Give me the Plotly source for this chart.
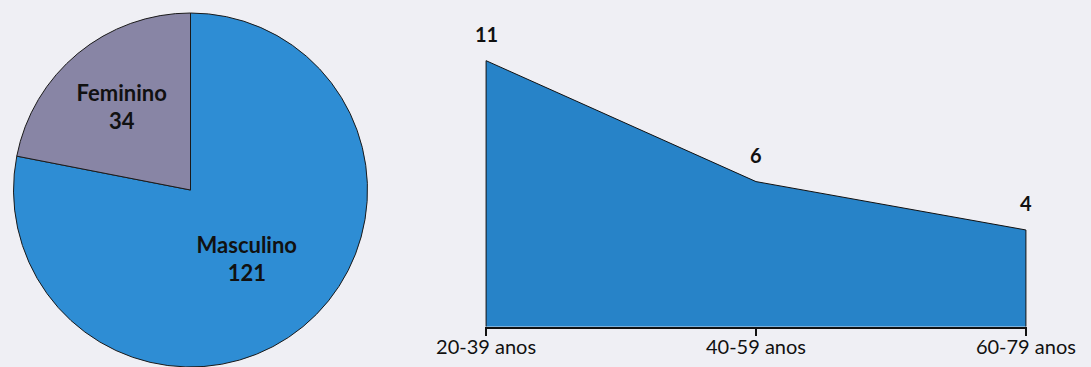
import plotly.graph_objects as go

# ---- data ----
sexo_labels = ["Masculino", "Feminino"]
sexo_values = [121, 34]

faixa_labels = ["20-39 anos", "40-59 anos", "60-79 anos"]
faixa_values = [11, 6, 4]

BG = "#efeff4"
FONT = "Lato"

fig = go.Figure()

# pie
fig.add_trace(go.Pie(
    labels=sexo_labels,
    values=sexo_values,
    sort=False,
    direction="clockwise",
    rotation=0,
    marker=dict(colors=["#2e8dd4", "#8885a5"], line=dict(color="#1a1a1a", width=1)),
    texttemplate="<b>%{label}</b><br><b>%{value}</b>",
    textposition="inside",
    insidetextorientation="horizontal",
    textfont=dict(family=FONT, size=22, color="#111111"),
    domain=dict(x=[13.5 / 1091, 367.5 / 1091], y=[0.0, 1 - 13 / 367]),
    showlegend=False,
    hoverinfo="label+value",
    automargin=False,
))

# area chart (closed polygon down to zero so the side edges are outlined)
xi = list(range(len(faixa_values)))
poly_x = [xi[0]] + xi + [xi[-1]]
poly_y = [0] + faixa_values + [0]
fig.add_trace(go.Scatter(
    x=poly_x, y=poly_y,
    mode="lines",
    fill="toself",
    fillcolor="#2783c8",
    line=dict(color="#111111", width=1),
    showlegend=False,
    xaxis="x", yaxis="y",
    hoverinfo="skip",
))

for i, v in zip(xi, faixa_values):
    fig.add_annotation(
        x=i, y=v, xref="x", yref="y",
        text=f"<b>{v}</b>", showarrow=False,
        yshift=27, font=dict(family=FONT, size=20, color="#111111"),
    )

fig.update_layout(
    width=1091, height=367,
    margin=dict(l=0, r=0, t=0, b=0, autoexpand=False),
    paper_bgcolor=BG, plot_bgcolor=BG,
    xaxis=dict(
        domain=[485 / 1091, 1027 / 1091],
        range=[-0.004, 2.004],
        tickmode="array", tickvals=xi, ticktext=faixa_labels,
        showline=True, linecolor="#111111", linewidth=2,
        ticks="outside", ticklen=7, tickwidth=1.5, tickcolor="#111111",
        ticklabelstandoff=-6,
        showgrid=False, zeroline=False,
        tickfont=dict(family=FONT, size=20, color="#111111"),
        fixedrange=True, automargin=False,
    ),
    yaxis=dict(
        domain=[(367 - 326.7) / 367, (367 - 36.5) / 367],
        range=[0, 12],
        visible=False, showgrid=False, zeroline=False,
        fixedrange=True, automargin=False,
    ),
)

fig.write_html("out.html")
